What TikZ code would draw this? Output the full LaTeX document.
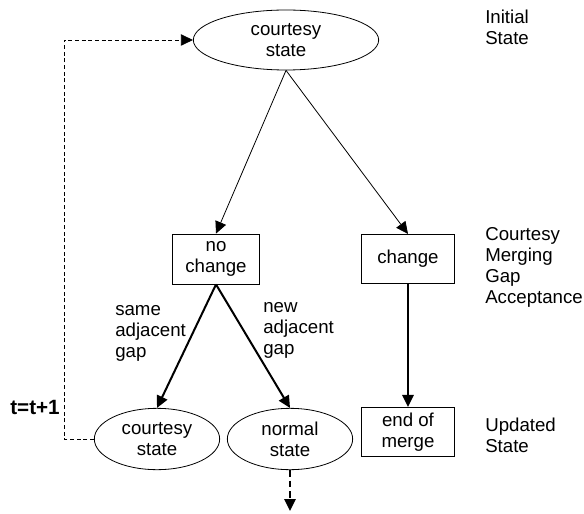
\documentclass[tikz,border=0pt]{standalone}
\usepackage{fontspec}
\setmainfont{Liberation Sans}
\usetikzlibrary{shapes.geometric,arrows.meta}

\begin{document}
\begin{tikzpicture}[x=0.75pt,y=-0.75pt,>={Triangle[length=9pt,width=8.5pt]},
	every node/.style={font=\fontsize{14}{15.75}\selectfont},
	state/.style={draw,ellipse,line width=0.6pt,inner sep=0pt,align=center},
	choice/.style={draw,rectangle,line width=0.6pt,inner sep=0pt,align=center},
	phase/.style={anchor=west,align=left,inner sep=0pt},
	flow/.style={->,line width=0.6pt},
	branch/.style={->,line width=1.5pt}]
	\useasboundingbox (0,0) rectangle (584,513);

	% Initial state
	\node[state,minimum width=139pt,minimum height=45pt] (init) at (286,40) {courtesy\\state};

	% Gap acceptance outcomes
	\node[choice,minimum width=65pt,minimum height=37.5pt] (nochange) at (216,259) {no\\change};
	\node[choice,minimum width=70pt,minimum height=37pt] (change) at (408,259) {change};

	% Updated states
	\node[state,minimum width=94pt,minimum height=46pt] (cstate) at (157,439) {courtesy\\state};
	\node[state,minimum width=94pt,minimum height=46pt] (nstate) at (290,439) {normal\\state};
	\node[choice,minimum width=70pt,minimum height=37pt] (endmerge) at (408,432) {end of\\merge};

	% Stage names on the right
	\node[phase] (lblinit) at (485,27) {Initial\\State};
	\node[phase] (lblgap) at (485,267) {Courtesy\\Merging\\Gap\\Acceptance};
	\node[phase] (lblupd) at (485,435) {Updated\\State};

	% Branch labels
	\node[phase] (same) at (115,333) {same\\adjacent\\gap};
	\node[phase] (new) at (263,330) {new\\adjacent\\gap};

	% Arrows between stages
	\draw[flow] (init.south) -- (nochange.north);
	\draw[flow] (init.south) -- (change.north);
	\draw[branch] (nochange.south) -- (cstate.north);
	\draw[branch] (nochange.south) -- (nstate.north);
	\draw[branch] (change.south) -- (endmerge.north);

	% Next time step loops back to the top
	\node[font=\bfseries\fontsize{15.5}{18}\selectfont,inner sep=0pt] (tick) at (35,407) {t=t+1};
	\coordinate (back) at (64,439);
	\draw[->,line width=0.6pt,dash pattern=on 3pt off 2pt] (cstate.west) -- (back) |- (init.west);

	% Leaving the merging process
	\coordinate (out) at (290,511);
	\draw[->,line width=1.5pt,dash pattern=on 5pt off 3pt] (nstate.south) -- (out);
\end{tikzpicture}
\end{document}
